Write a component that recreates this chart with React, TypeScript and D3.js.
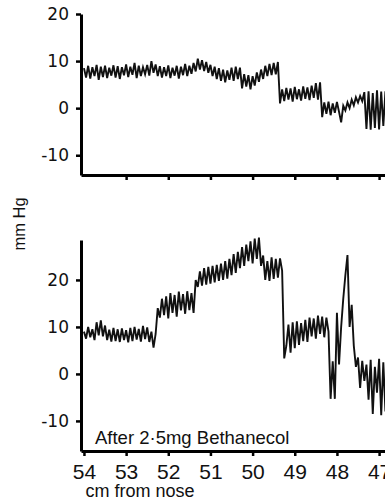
import React, { useEffect, useRef } from 'react'
import * as d3 from 'd3'

// Pressure trace, one sample every 0.05 cm
const traceStart = 54.0
const traceStep = 0.05

const controlPressure = [
  8.5, 6.5, 9.0, 6.3, 8.7, 6.8, 9.2, 6.0, 8.8, 6.6,
  9.0, 6.4, 8.6, 6.9, 9.1, 6.5, 8.9, 6.2, 8.7, 7.0,
  9.3, 6.6, 8.8, 7.1, 9.6, 6.4, 9.0, 6.8, 8.7, 7.2,
  9.2, 6.9, 10.0, 7.5, 9.3, 6.8, 8.9, 6.5, 8.7, 6.8,
  9.1, 6.4, 8.6, 6.9, 9.0, 6.3, 8.8, 7.0, 9.4, 6.8,
  9.0, 7.3, 9.6, 7.8, 10.5, 8.2, 10.2, 7.9, 9.8, 7.5,
  9.2, 6.8, 8.8, 6.2, 8.5, 5.8, 8.2, 5.5, 8.0, 6.0,
  8.6, 5.8, 8.8, 6.2, 8.6, 4.2, 7.2, 4.6, 7.0, 4.0,
  6.8, 4.8, 7.6, 5.6, 8.2, 6.2, 9.0, 6.8, 9.4, 7.0,
  9.6, 7.2, 9.8, 1.0, 4.0, 1.5, 4.3, 1.8, 4.2, 1.4,
  4.5, 1.9, 4.0, 1.6, 4.6, 2.0, 4.4, 1.7, 4.8, 2.2,
  5.3, 1.8, 5.5, -1.9, 1.2, -1.2, 1.4, -1.5, 1.0, -1.0,
  1.3, -0.8, -3.0, 0.5, -0.5, 1.2, 0.0, 1.8, 0.6, 2.3,
  1.2, 2.6, 1.5, 3.4, -4.4, 3.6, -4.6, 3.2, -4.2, 3.8,
  -4.5, 3.5, -3.8, 3.6,
]

const bethanecolPressure = [
  9.0, 7.5, 10.0, 7.8, 9.5, 7.2, 11.0, 8.2, 11.4, 8.0,
  10.3, 7.2, 9.4, 6.9, 9.8, 7.0, 9.5, 6.8, 9.7, 7.2,
  9.3, 6.7, 9.8, 7.0, 10.0, 7.3, 9.6, 6.9, 10.2, 7.4,
  9.9, 6.8, 9.0, 5.6, 8.5, 14.0, 12.0, 16.0, 12.5, 16.5,
  11.8, 17.2, 13.0, 16.8, 12.2, 17.5, 13.5, 17.0, 12.8, 17.6,
  13.6, 17.2, 13.0, 20.0, 18.5, 21.8, 18.8, 22.5, 19.0, 22.8,
  19.2, 23.0, 19.5, 23.2, 19.8, 23.5, 20.0, 24.0, 20.3, 24.5,
  21.0, 25.5, 21.5, 26.0, 22.5, 27.0, 23.0, 27.5, 24.0, 28.2,
  23.5, 28.8, 24.5, 29.0, 23.0, 25.2, 20.0, 24.0, 19.8, 24.8,
  20.2, 24.5, 20.5, 24.6, 22.0, 3.3, 6.0, 10.5, 4.5, 11.0,
  5.5, 11.2, 6.2, 10.8, 7.0, 11.5, 6.8, 12.0, 8.0, 11.8,
  7.5, 12.4, 8.5, 12.2, 7.8, 12.0, 9.0, -5.3, 2.7, -5.3,
  13.0, 2.0, 10.0, 16.0, 21.0, 25.3, 10.0, 14.7, 6.0, 1.5,
  3.5, -3.0, 2.8, -1.5, 2.0, -5.5, 3.0, -8.5, 1.5, -4.0,
  3.2, -8.8, 2.5, -8.0,
]

const cmTicks = [54, 53, 52, 51, 50, 49, 48, 47]
const pressureTicks = [20, 10, 0, -10]

const W = 385
const H = 502
const FONT = "'Liberation Sans', 'DejaVu Sans', sans-serif"

const App: React.FC = () => {
  const ref = useRef<SVGSVGElement | null>(null)

  useEffect(() => {
    if (!ref.current) return
    const svg = d3.select(ref.current)
    svg.selectAll('*').remove()

    const x = d3.scaleLinear().domain([54.07, 46.86]).range([81, 385])

    const panels = [
      { values: controlPressure, yDomain: [-14.2, 20], yRange: [175, 14], labels: false, note: '' },
      { values: bethanecolPressure, yDomain: [-16.4, 28.5], yRange: [451, 240], labels: true, note: 'After 2·5mg Bethanecol' },
    ]

    panels.forEach(p => {
      const y = d3.scaleLinear().domain(p.yDomain).range(p.yRange)
      const g = svg.append('g')

      // trace
      const line = d3.line<number>()
        .x((_, i) => x(traceStart - i * traceStep))
        .y(d => y(d))
      g.append('path')
        .datum(p.values)
        .attr('d', line)
        .attr('fill', 'none')
        .attr('stroke', '#111')
        .attr('stroke-width', 1.9)

      // y axis
      const ya = g.append('g')
        .attr('transform', `translate(81,0)`)
        .call(d3.axisLeft(y).tickValues(pressureTicks).tickSize(5).tickSizeOuter(0).tickPadding(7).tickFormat(d => String(d)))
      ya.attr('font-family', "'DejaVu Sans', sans-serif").attr('font-size', 17)
      ya.select('.domain').attr('stroke-width', 3)
      ya.selectAll('.tick line').attr('stroke-width', 2.5)
      ya.selectAll('.tick text').attr('fill', '#111')

      // x axis
      const xa = g.append('g')
        .attr('transform', `translate(0,${p.yRange[0]})`)
        .call(d3.axisBottom(x)
          .tickValues(p.labels ? cmTicks : cmTicks.slice(1))
          .tickSize(5).tickSizeOuter(0).tickPadding(8)
          .tickFormat(d => (p.labels ? String(d) : '')))
      xa.attr('font-family', FONT).attr('font-size', 21)
      xa.select('.domain').attr('stroke-width', 3)
      xa.selectAll('.tick line').attr('stroke-width', 2.5)
      xa.selectAll('.tick text').attr('fill', '#111')

      if (p.note) {
        g.append('text')
          .attr('x', 95)
          .attr('y', 444)
          .attr('font-family', FONT)
          .attr('font-size', 18.5)
          .attr('fill', '#111')
          .text(p.note)
      }
    })

    svg.append('text')
      .attr('x', 140)
      .attr('y', 497)
      .attr('text-anchor', 'middle')
      .attr('font-family', FONT)
      .attr('font-size', 18)
      .attr('fill', '#111')
      .text('cm from nose')

    svg.append('text')
      .attr('transform', 'translate(25,224) rotate(-90)')
      .attr('text-anchor', 'middle')
      .attr('font-family', FONT)
      .attr('font-size', 16.5)
      .attr('fill', '#111')
      .text('mm Hg')
  }, [])

  return (
    <svg
      ref={ref}
      width={W}
      height={H}
      viewBox={`0 0 ${W} ${H}`}
      style={{ position: 'absolute', left: 0, top: 0, background: '#fff' }}
    />
  )
}

export default App
